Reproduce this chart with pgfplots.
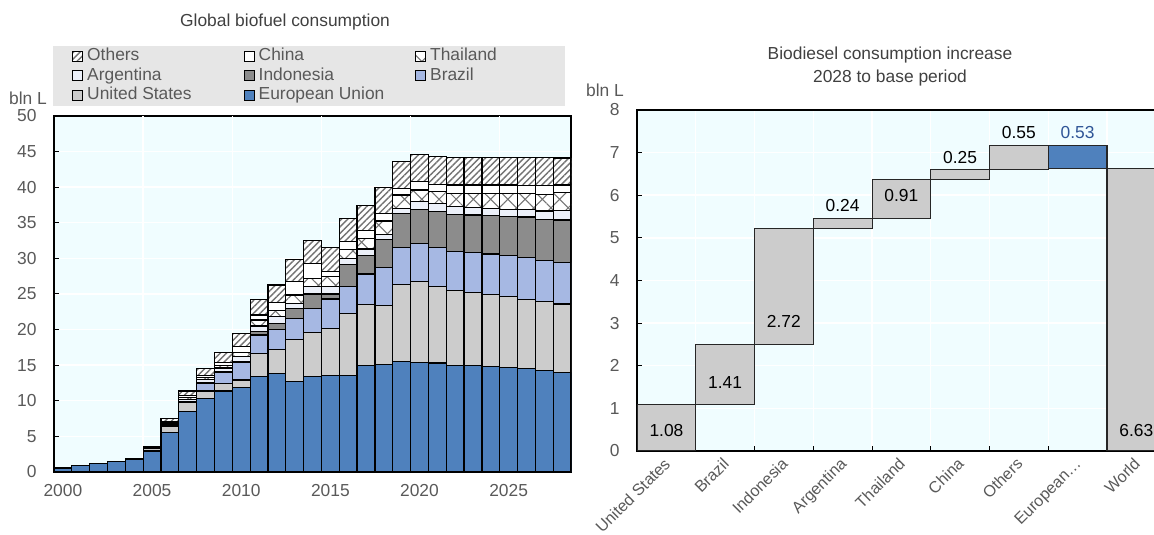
\documentclass[border=0pt]{standalone}
\usepackage{pgfplots}
\pgfplotsset{compat=1.18}
\usepackage{pgfplotstable}
\usepackage{fontspec}
\setmainfont{Liberation Sans}
\usetikzlibrary{patterns.meta}
\definecolor{bgc}{RGB}{240,253,255}
\definecolor{euc}{RGB}{79,129,189}
\definecolor{usc}{RGB}{204,204,204}
\definecolor{brc}{RGB}{166,184,227}
\definecolor{idc}{RGB}{140,140,140}
\definecolor{arc}{RGB}{236,240,249}
\definecolor{legc}{RGB}{230,230,230}
\definecolor{txt}{RGB}{89,89,89}
\definecolor{ttl}{RGB}{64,64,64}
\definecolor{valblue}{RGB}{47,85,151}
\newcommand{\tfont}{\fontsize{10}{12}\selectfont}

\pgfplotstableread{
year EU US BR ID AR TH CN OT
2000 0.55 0 0 0 0 0 0 0.05
2001 0.90 0 0 0 0 0 0 0.04
2002 1.15 0.02 0 0 0 0 0 0.04
2003 1.45 0.03 0 0 0 0 0 0.04
2004 1.75 0.05 0 0 0 0 0 0.05
2005 2.95 0.30 0.05 0.02 0.03 0.05 0.02 0.08
2006 5.50 0.90 0.10 0.10 0.15 0.15 0.17 0.47
2007 8.47 1.26 0.12 0.10 0.25 0.25 0.25 0.68
2008 10.35 1.03 1.08 0.14 0.35 0.30 0.28 1.03
2009 11.38 1.08 1.49 0.15 0.50 0.40 0.40 1.36
2010 11.90 1.00 2.45 0.20 0.65 0.60 0.80 1.88
2011 13.45 3.20 2.60 0.45 0.80 0.85 0.70 2.20
2012 13.80 3.40 2.85 0.85 0.90 0.85 1.15 2.46
2013 12.70 5.90 3.00 1.40 0.70 1.15 1.85 3.10
2014 13.40 6.15 3.45 2.00 1.00 1.20 2.10 3.20
2015 13.60 6.60 4.10 0.70 1.00 1.40 0.80 3.35
2016 13.50 8.80 3.70 3.10 0.90 1.20 1.15 3.25
2017 14.90 8.60 4.30 2.60 0.90 1.50 1.10 3.50
2018 15.10 8.30 5.35 3.95 0.70 1.85 1.05 3.70
2019 15.50 10.80 5.25 4.75 0.70 1.90 0.90 3.80
2020 15.40 11.30 5.40 4.80 1.10 1.60 1.20 3.80
2021 15.30 10.70 5.50 5.10 1.10 1.70 1.00 3.90
2022 15.00 10.50 5.50 5.20 1.10 1.80 1.20 3.85
2023 14.90 10.30 5.60 5.30 1.00 2.00 1.20 3.90
2024 14.80 10.10 5.70 5.40 1.00 2.10 1.20 3.90
2025 14.70 9.90 5.80 5.50 1.00 2.20 1.20 3.90
2026 14.50 9.75 5.90 5.65 1.05 2.25 1.10 4.00
2027 14.20 9.70 5.80 5.80 1.15 2.35 1.20 4.00
2028 13.95 9.65 5.85 5.95 1.30 2.50 1.10 3.80
}\bio

\pgfplotstableread{
x base gray blue
0.5 0 1.08 0
1.5 1.08 1.41 0
2.5 2.49 2.72 0
3.5 5.21 0.24 0
4.5 5.45 0.91 0
5.5 6.36 0.25 0
6.5 6.61 0.55 0
7.5 6.63 0 0.53
8.5 0 6.63 0
}\wf

\begin{document}
\begin{tikzpicture}
\useasboundingbox (0pt,0pt) rectangle (663.55pt,307.6pt);
\node[text=ttl, font=\tfont] at (163.9pt,295.0pt) {Global biofuel consumption};
\node[text=ttl, font=\tfont] at (511.75pt,276.0pt) {Biodiesel consumption increase};
\node[text=ttl, font=\tfont] at (511.75pt,262.8pt) {2028 to base period};
\node[text=txt, font=\tfont] at (16.1pt,251.3pt) {bln L};
\node[text=txt, font=\tfont] at (347.9pt,255.9pt) {bln L};

\begin{axis}[
  at={(31.05pt,36.225pt)}, anchor=south west,
  scale only axis, width=297.3pt, height=204.7pt,
  xmin=1999.5, xmax=2028.5, ymin=0, ymax=50,
  ybar stacked, bar width=1,
  axis background/.style={fill=bgc},
  axis line style={black, line width=0.8pt},
  ytick={0,5,...,50}, ytick pos=left, tick align=inside, major tick length=3pt,
  ytick style={black, line width=0.6pt},
  xtick={2000,2005,...,2025}, xtick style={draw=none},
  ymajorgrids,
  extra x ticks={2004.5,2009.5,2014.5,2019.5,2024.5}, extra x tick labels={},
  extra x tick style={grid=major, major tick length=0pt},
  grid style={white, line width=0.8pt},
  /pgf/number format/assume math mode=true, /pgf/number format/1000 sep={},
  tick label style={text=txt, font=\tfont},
  yticklabel style={xshift=-6.5pt},
  xticklabel style={yshift=-3.5pt},
  every axis plot/.append style={draw=black, line width=0.7pt},
  legend columns=3, reverse legend,
  legend image code/.code={\draw[#1, line width=0.5pt] (0pt,-2.9pt) rectangle (5.8pt,2.9pt);},
  legend style={at={(0,1)}, anchor=south west, xshift=-0.6pt, yshift=5.75pt,
    fill=legc, draw=none, inner xsep=10.9pt, inner ysep=1.2pt, row sep=1.5pt,
    text=txt, font=\tfont,
    nodes={inner xsep=2.3pt, inner ysep=0pt, text height=7.5pt, text depth=2.2pt}},
]
\addplot[fill=euc] table[x=year,y=EU]{\bio};
\addlegendentry{\makebox[87.7pt][l]{European Union}}
\addplot[fill=usc] table[x=year,y=US]{\bio};
\addlegendentry{\makebox[87.7pt][l]{United States}}
\addplot[fill=brc] table[x=year,y=BR]{\bio};
\addlegendentry{\makebox[64.6pt][l]{Brazil}}
\addplot[fill=idc] table[x=year,y=ID]{\bio};
\addlegendentry{\makebox[87.7pt][l]{Indonesia}}
\addplot[fill=arc] table[x=year,y=AR]{\bio};
\addlegendentry{\makebox[87.7pt][l]{Argentina}}
\addplot[fill=white, postaction={pattern={Hatch[angle=45,distance=7pt,line width=0.6pt]}, pattern color=black!55}] table[x=year,y=TH]{\bio};
\addlegendentry{\makebox[64.6pt][l]{Thailand}}
\addplot[fill=white] table[x=year,y=CN]{\bio};
\addlegendentry{\makebox[87.7pt][l]{China}}
\addplot[fill=white, postaction={pattern={Lines[angle=45,distance=2.6pt,line width=0.8pt]}, pattern color=black!55}] table[x=year,y=OT]{\bio};
\addlegendentry{\makebox[87.7pt][l]{Others}}
\end{axis}

\begin{axis}[
  at={(366.3pt,48.3pt)}, anchor=south west, scale only axis,
  width=304pt, height=196.1pt,
  xmin=0, xmax=9, ymin=0, ymax=8,
  ybar stacked, bar width=1,
  axis background/.style={fill=bgc},
  axis line style={black, line width=0.8pt},
  ytick={0,...,8}, ytick pos=left, tick align=inside, major tick length=3pt,
  xtick={1,...,8}, xticklabels={}, xtick pos=bottom,
  tick style={black, line width=0.6pt},
  xmajorgrids, ymajorgrids, grid style={white, line width=0.8pt},
  extra x ticks={0.5,1.5,...,8.5},
  extra x tick labels={United States,Brazil,Indonesia,Argentina,Thailand,China,Others,European…,World},
  extra x tick style={major tick length=0pt, grid=none},
  /pgf/number format/assume math mode=true,
  tick label style={text=txt, font=\tfont},
  yticklabel style={xshift=-6.5pt},
  xticklabel style={rotate=45, anchor=north east, inner sep=1pt, xshift=-2.7pt, yshift=0.2pt, font=\fontsize{9.3}{11}\selectfont},
]
\addplot[draw=none, fill=none] table[x=x,y=base]{\wf};
\addplot[fill=usc, draw=black!85, line width=0.6pt] table[x=x,y=gray]{\wf};
\addplot[fill=euc, draw=black!85, line width=0.6pt] table[x=x,y=blue]{\wf};
\coordinate (v1) at (axis cs:0.5,0.49);
\coordinate (v2) at (axis cs:1.5,1.6);
\coordinate (v3) at (axis cs:2.5,3.03);
\coordinate (v4) at (axis cs:3.5,5.75);
\coordinate (v5) at (axis cs:4.5,6.0);
\coordinate (v6) at (axis cs:5.5,6.88);
\coordinate (v7) at (axis cs:6.5,7.46);
\coordinate (v8) at (axis cs:7.5,7.46);
\coordinate (v9) at (axis cs:8.5,0.49);
\end{axis}
\node[font=\tfont] at (v1) {1.08};
\node[font=\tfont] at (v2) {1.41};
\node[font=\tfont] at (v3) {2.72};
\node[font=\tfont] at (v4) {0.24};
\node[font=\tfont] at (v5) {0.91};
\node[font=\tfont] at (v6) {0.25};
\node[font=\tfont] at (v7) {0.55};
\node[font=\tfont, text=valblue] at (v8) {0.53};
\node[font=\tfont] at (v9) {6.63};
\end{tikzpicture}
\end{document}
